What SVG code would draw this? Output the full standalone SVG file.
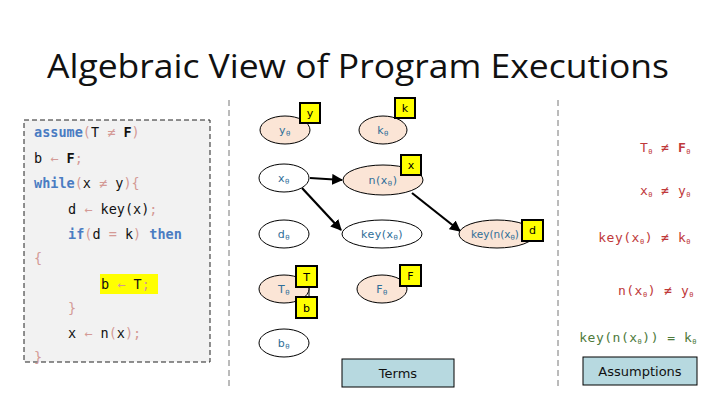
<svg xmlns="http://www.w3.org/2000/svg" width="720" height="405" viewBox="0 0 720 405">
<defs>
<marker id="ah" viewBox="0 0 10 10" refX="9" refY="5" markerWidth="5" markerHeight="5" orient="auto"><path d="M0,0 L10,5 L0,10 z" fill="#000"/></marker>
<style>
.title{font-family:"Open Sans","DejaVu Sans",sans-serif;font-size:33px;fill:#111}
.code{font-family:"DejaVu Sans Mono","Liberation Mono",monospace;font-size:13.5px;fill:#111}
.kw{fill:#4a7cc2;font-weight:bold}
.pu{fill:#d49a96}
.bd{font-weight:bold}
.nd{stroke:#000;stroke-width:1}
.pe{fill:#fbe5d6}
.wh{fill:#fff}
.nt{font-family:"DejaVu Sans","Liberation Sans",sans-serif;font-size:11px;fill:#2f6e98;text-anchor:middle;letter-spacing:0.5px}
.sb{font-size:7px}
.tag rect{fill:#ffff00;stroke:#000;stroke-width:2}
.tag text{font-family:"DejaVu Sans","Liberation Sans",sans-serif;font-size:11px;fill:#000;text-anchor:middle}
.as{font-family:"DejaVu Sans Mono","Liberation Mono",monospace;font-size:13px;fill:#c0393b;text-anchor:end;letter-spacing:0.5px}
.ag{fill:#4e7a3c}
.lab rect{fill:#b7d9e0;stroke:#000;stroke-width:1}
.lab text{font-family:"DejaVu Sans","Liberation Sans",sans-serif;font-size:13px;fill:#111;text-anchor:middle}
.dv{stroke:#777;stroke-width:1;stroke-dasharray:6,4;fill:none}
</style>
</defs>
<rect width="720" height="405" fill="#fff"/>
<text class="title" x="358" y="78" textLength="622" lengthAdjust="spacingAndGlyphs" text-anchor="middle">Algebraic View of Program Executions</text>

<g id="code">
<rect x="24" y="120" width="186" height="242" fill="#f2f2f2" stroke="#222" stroke-width="1" stroke-dasharray="5,3"/>
<rect x="100" y="274" width="58" height="20" fill="#ffff00"/>
<text class="code" x="34" y="137"><tspan class="kw">assume</tspan><tspan class="pu">(</tspan>T <tspan class="pu">≠</tspan> <tspan class="bd">F</tspan><tspan class="pu">)</tspan></text>
<text class="code" x="34" y="163">b <tspan class="pu">←</tspan> <tspan class="bd">F</tspan><tspan class="pu">;</tspan></text>
<text class="code" x="34" y="188"><tspan class="kw">while</tspan><tspan class="pu">(</tspan>x <tspan class="pu">≠</tspan> y<tspan class="pu">){</tspan></text>
<text class="code" x="68" y="214">d <tspan class="pu">←</tspan> key(x)<tspan class="pu">;</tspan></text>
<text class="code" x="68" y="239"><tspan class="kw">if</tspan><tspan class="pu">(</tspan>d <tspan class="pu">=</tspan> k<tspan class="pu">)</tspan> <tspan class="kw">then</tspan></text>
<text class="code pu" x="34" y="263">{</text>
<text class="code" x="101" y="289">b <tspan class="pu">←</tspan> T<tspan class="pu">;</tspan></text>
<text class="code pu" x="68" y="313">}</text>
<text class="code" x="68" y="338">x <tspan class="pu">←</tspan> n<tspan class="pu">(</tspan>x<tspan class="pu">);</tspan></text>
<text class="code pu" x="34" y="362">}</text>
</g>

<line class="dv" x1="229" y1="100" x2="229" y2="390"/>
<line class="dv" x1="558" y1="100" x2="558" y2="390"/>

<g id="connectors" stroke="#000" stroke-width="2.2" fill="none">
<line x1="310" y1="178" x2="342" y2="180" marker-end="url(#ah)"/>
<line x1="302" y1="188" x2="341" y2="230" marker-end="url(#ah)"/>
<line x1="412" y1="193" x2="460" y2="231" marker-end="url(#ah)"/>
<line x1="309" y1="288" x2="309" y2="296" stroke-width="1"/>
</g>

<g id="n-y"><ellipse class="nd pe" cx="285" cy="130" rx="25" ry="14"/><text class="nt" x="285" y="134">y<tspan class="sb" dy="2">θ</tspan></text></g>
<g id="n-k"><ellipse class="nd pe" cx="383" cy="130" rx="24" ry="14"/><text class="nt" x="383" y="134">k<tspan class="sb" dy="2">θ</tspan></text></g>
<g id="n-x"><ellipse class="nd wh" cx="284" cy="178" rx="25" ry="14"/><text class="nt" x="284" y="182">x<tspan class="sb" dy="2">θ</tspan></text></g>
<g id="n-nx"><ellipse class="nd pe" cx="383" cy="180" rx="40" ry="15"/><text class="nt" x="383" y="184">n(x<tspan class="sb" dy="2">θ</tspan><tspan dy="-2">)</tspan></text></g>
<g id="n-d"><ellipse class="nd wh" cx="284" cy="234" rx="25" ry="14"/><text class="nt" x="284" y="238">d<tspan class="sb" dy="2">θ</tspan></text></g>
<g id="n-keyx"><ellipse class="nd wh" cx="382" cy="234" rx="40" ry="14"/><text class="nt" x="382" y="238">key(x<tspan class="sb" dy="2">θ</tspan><tspan dy="-2">)</tspan></text></g>
<g id="n-keynx"><ellipse class="nd pe" cx="497" cy="234" rx="38" ry="14"/><text class="nt" x="495" y="238" style="font-size:10.5px;letter-spacing:0">key(n(x<tspan class="sb" dy="2">θ</tspan><tspan dy="-2">)</tspan></text></g>
<g id="n-T"><ellipse class="nd pe" cx="284" cy="289" rx="25" ry="14"/><text class="nt" x="284" y="293">T<tspan class="sb" dy="2">θ</tspan></text></g>
<g id="n-F"><ellipse class="nd pe" cx="382" cy="289" rx="25" ry="14"/><text class="nt" x="382" y="293">F<tspan class="sb" dy="2">θ</tspan></text></g>
<g id="n-b"><ellipse class="nd wh" cx="284" cy="343" rx="25" ry="14"/><text class="nt" x="284" y="347">b<tspan class="sb" dy="2">θ</tspan></text></g>

<g id="tag-y" class="tag"><rect x="300" y="103" width="20" height="20"/><text x="310" y="117">y</text></g>
<g id="tag-k" class="tag"><rect x="395" y="98" width="20" height="20"/><text x="405" y="112">k</text></g>
<g id="tag-x" class="tag"><rect x="401" y="155" width="20" height="20"/><text x="411" y="169">x</text></g>
<g id="tag-d" class="tag"><rect x="522" y="220" width="21" height="21"/><text x="532.5" y="234">d</text></g>
<g id="tag-T" class="tag"><rect x="296" y="266" width="21" height="21"/><text x="306.5" y="281">T</text></g>
<g id="tag-b" class="tag"><rect x="296" y="297" width="21" height="21"/><text x="306.5" y="312">b</text></g>
<g id="tag-F" class="tag"><rect x="400" y="265" width="21" height="21"/><text x="410.5" y="280">F</text></g>

<g id="assumptions">
<text class="as" x="691" y="152">T<tspan class="sb" dy="2">θ</tspan><tspan dy="-2"> ≠ </tspan><tspan style="font-weight:bold">F</tspan><tspan class="sb" dy="2">θ</tspan></text>
<text class="as" x="691" y="195">x<tspan class="sb" dy="2">θ</tspan><tspan dy="-2"> ≠ y</tspan><tspan class="sb" dy="2">θ</tspan></text>
<text class="as" x="691" y="242">key(x<tspan class="sb" dy="2">θ</tspan><tspan dy="-2">) ≠ k</tspan><tspan class="sb" dy="2">θ</tspan></text>
<text class="as" x="694" y="295">n(x<tspan class="sb" dy="2">θ</tspan><tspan dy="-2">) ≠ y</tspan><tspan class="sb" dy="2">θ</tspan></text>
<text class="as ag" x="697" y="342">key(n(x<tspan class="sb" dy="2">θ</tspan><tspan dy="-2">)) = k</tspan><tspan class="sb" dy="2">θ</tspan></text>
</g>

<g id="terms" class="lab"><rect x="342" y="359" width="112" height="28"/><text x="398" y="378">Terms</text></g>
<g id="assump" class="lab"><rect x="583" y="357" width="114" height="28"/><text x="640" y="376">Assumptions</text></g>
</svg>
